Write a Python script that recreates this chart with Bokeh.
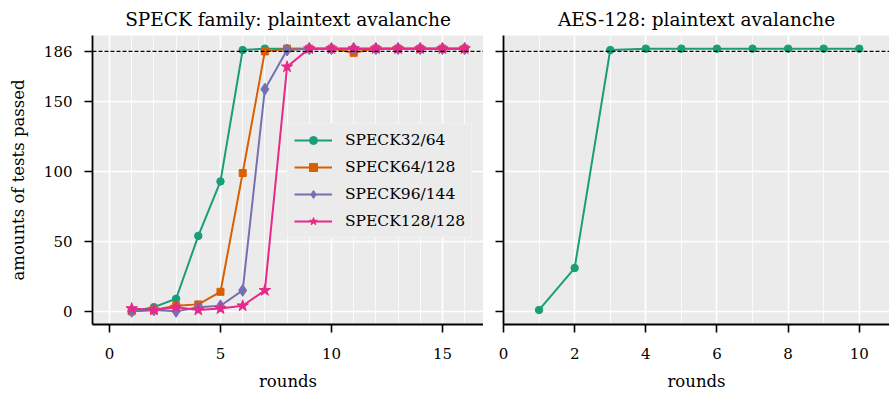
from bokeh.plotting import figure
from bokeh.layouts import row
from bokeh.models import Range1d, FixedTicker, Span, Legend, LegendItem
from bokeh.embed import file_html
from bokeh.resources import INLINE

# ---------------- data ----------------
speck_rounds = list(range(1, 17))
speck32_64 = [0, 3, 9, 54, 93, 187, 188, 188, 188, 188, 188, 188, 188, 188, 188, 188]
speck64_128 = [0, 1, 4, 5, 14, 99, 186, 188, 188, 188, 185, 188, 188, 188, 188, 188]
speck96_144 = [0, 1, 0, 3, 4, 15, 159, 187, 188, 188, 188, 188, 188, 188, 188, 188]
speck128_128 = [2, 1, 3, 1, 2, 4, 15, 175, 188, 188, 188, 188, 188, 188, 188, 188]

aes_rounds = list(range(1, 11))
aes128 = [1, 31, 187, 188, 188, 188, 188, 188, 188, 188]

threshold = 186
y_ticks = [0, 50, 100, 150, 186]
speck_x_ticks = [0, 5, 10, 15]
aes_x_ticks = [0, 2, 4, 6, 8, 10]

series_names = ["SPECK32/64", "SPECK64/128", "SPECK96/144", "SPECK128/128"]
series_values = [speck32_64, speck64_128, speck96_144, speck128_128]

# ---------------- style ----------------
FONT = "DejaVu Serif"
COLORS = ["#1b9e77", "#d95f02", "#7570b3", "#e7298a"]
MARKERS = ["circle", "square", "diamond", "star"]
SIZES = [7.5, 7, 12, 12]
BG = "#ebebeb"

H = 395
TOP = 35
BOTTOM = 71


def style(p, xticks, minor, show_ylabels):
    p.background_fill_color = BG
    p.border_fill_color = "white"
    p.outline_line_color = None
    p.title.text_font = FONT
    p.title.text_font_style = "normal"
    p.title.text_font_size = "18.5px"
    p.title.align = "center"
    p.title.text_color = "black"
    p.title.standoff = 12

    p.xaxis.ticker = FixedTicker(ticks=xticks, minor_ticks=minor)
    p.yaxis.ticker = FixedTicker(ticks=y_ticks)
    for ax in (p.xaxis[0], p.yaxis[0]):
        ax.axis_line_color = "black"
        ax.axis_line_width = 1.8
        ax.major_tick_line_color = "black"
        ax.major_tick_line_width = 1.6
        ax.major_tick_out = 8
        ax.major_tick_in = 0
        ax.minor_tick_line_color = None
        ax.major_label_text_font = FONT
        ax.major_label_text_font_size = "15px"
        ax.major_label_text_color = "black"
        ax.axis_label_text_font = FONT
        ax.axis_label_text_font_size = "16.5px"
        ax.axis_label_text_font_style = "normal"
        ax.axis_label_text_color = "black"
    p.xaxis.major_label_standoff = 15
    p.xaxis.axis_label_standoff = 10
    p.yaxis.major_label_standoff = 12
    p.yaxis.axis_label_standoff = 13
    p.xaxis.axis_label = "rounds"
    if show_ylabels:
        p.yaxis.axis_label = "amounts of tests passed"
    else:
        p.yaxis.major_label_overrides = {t: "" for t in y_ticks}
        p.yaxis.major_label_standoff = 0

    p.xgrid.grid_line_color = "white"
    p.xgrid.grid_line_width = 1.6
    p.xgrid.minor_grid_line_color = "white"
    p.xgrid.minor_grid_line_width = 0.8
    p.ygrid.grid_line_color = "white"
    p.ygrid.grid_line_width = 1.6

    p.add_layout(Span(location=threshold, dimension="width", line_color="black",
                      line_width=1.2, line_dash="4 2"))


# ---------------- left: SPECK ----------------
p1 = figure(width=483, height=H, output_backend="svg", toolbar_location=None,
            x_range=Range1d(-0.766, 16.85), y_range=Range1d(-9.4, 197.4),
            title="SPECK family: plaintext avalanche",
            min_border_left=92, min_border_right=0,
            min_border_top=TOP, min_border_bottom=BOTTOM)
style(p1, speck_x_ticks, list(range(-1, 18)), True)

items = []
for name, vals, c, m, s in zip(series_names, series_values, COLORS, MARKERS, SIZES):
    r_line = p1.line(speck_rounds, vals, line_color=c, line_width=2)
    r_mark = p1.scatter(speck_rounds, vals, marker=m, size=s, fill_color=c, line_color=c)
    items.append(LegendItem(label=name, renderers=[r_line, r_mark]))

legend = Legend(items=items, location=(195, 86))
legend.background_fill_color = BG
legend.background_fill_alpha = 1.0
legend.border_line_color = "#f7f7f7"
legend.border_line_width = 1.5
legend.label_text_font = FONT
legend.label_text_font_size = "15.5px"
legend.label_text_color = "black"
legend.glyph_width = 38
legend.glyph_height = 20
legend.label_height = 20
legend.label_standoff = 13
legend.spacing = 7
legend.padding = 6
legend.margin = 0
p1.add_layout(legend, "center")

# ---------------- right: AES ----------------
p2 = figure(width=406, height=H, output_backend="svg", toolbar_location=None,
            x_range=Range1d(0, 10.85), y_range=Range1d(-9.4, 197.4),
            title="AES-128: plaintext avalanche",
            min_border_left=20, min_border_right=0,
            min_border_top=TOP, min_border_bottom=BOTTOM)
style(p2, aes_x_ticks, [1, 3, 5, 7, 9], False)
p2.line(aes_rounds, aes128, line_color=COLORS[0], line_width=2)
p2.scatter(aes_rounds, aes128, marker="circle", size=7.5, fill_color=COLORS[0], line_color=COLORS[0])

layout = row(p1, p2, spacing=0)
open("out.html", "w").write(file_html(layout, INLINE))
